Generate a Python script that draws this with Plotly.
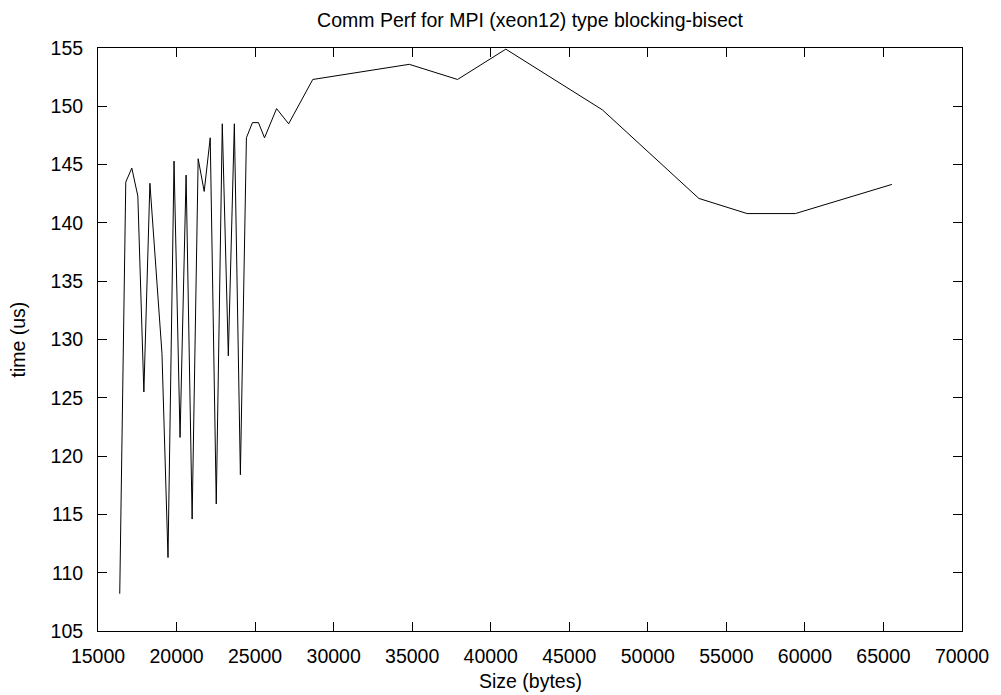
import plotly.graph_objects as go

title_text = "Comm Perf for MPI (xeon12) type blocking-bisect"
x_label = "Size (bytes)"
y_label = "time (us)"

sizes = [16384, 16768, 17152, 17536, 17920, 18304, 19072, 19456, 19840, 20224,
         20608, 20992, 21376, 21760, 22144, 22528, 22912, 23296, 23680, 24064,
         24448, 24832, 25216, 25600, 26368, 27136, 28672, 34816, 37888, 40960,
         47104, 53248, 56320, 59392, 65536]
times = [108.2, 143.5, 144.7, 142.3, 125.5, 143.4, 128.8, 111.3, 145.3, 121.6,
         144.1, 114.6, 145.5, 142.7, 147.3, 115.9, 148.5, 128.6, 148.5, 118.4,
         147.3, 148.6, 148.6, 147.3, 149.8, 148.5, 152.3, 153.6, 152.3, 154.9,
         149.7, 142.1, 140.8, 140.8, 143.3]

x_ticks = list(range(15000, 70001, 5000))
y_ticks = list(range(105, 156, 5))

FONT = "Liberation Sans, Arial, sans-serif"
FS = 19.5

fig = go.Figure()
fig.add_trace(go.Scatter(x=sizes, y=times, mode="lines",
                         line=dict(color="black", width=1), showlegend=False,
                         hoverinfo="x+y"))

axis_common = dict(showline=True, linecolor="black", linewidth=1, mirror="ticks",
                   ticks="inside", ticklen=9, tickwidth=1, tickcolor="black",
                   showgrid=False, zeroline=False,
                   tickfont=dict(family=FONT, size=FS, color="black"))

fig.update_xaxes(range=[15000, 70000], tickvals=x_ticks,
                 ticktext=[str(v) for v in x_ticks], ticklabelstandoff=8,
                 **axis_common)
fig.update_yaxes(range=[105, 155], tickvals=y_ticks,
                 ticktext=[str(v) for v in y_ticks], ticklabelstandoff=10,
                 **axis_common)

fig.update_layout(
    width=1001, height=695, autosize=False,
    margin=dict(l=98, r=34, t=48, b=64, pad=0),
    paper_bgcolor="white", plot_bgcolor="white",
    font=dict(family=FONT, size=FS, color="black"),
    title=dict(text=title_text, x=0.5, xref="paper", xanchor="center",
               y=1 - 20 / 695, yref="container", yanchor="middle",
               font=dict(family=FONT, size=FS, color="black")),
    annotations=[
        dict(text=x_label, xref="paper", yref="paper", x=0.5, y=0,
             xanchor="center", yanchor="middle", yshift=-50, showarrow=False,
             font=dict(family=FONT, size=FS, color="black")),
        dict(text=y_label, xref="paper", yref="paper", x=0, y=0.5,
             xanchor="center", yanchor="middle", xshift=-81, textangle=-90,
             showarrow=False, font=dict(family=FONT, size=FS, color="black")),
    ],
)

fig.write_html("out.html", config={"displayModeBar": False},
               post_script="document.body.style.margin='0';document.body.style.padding='0';")
